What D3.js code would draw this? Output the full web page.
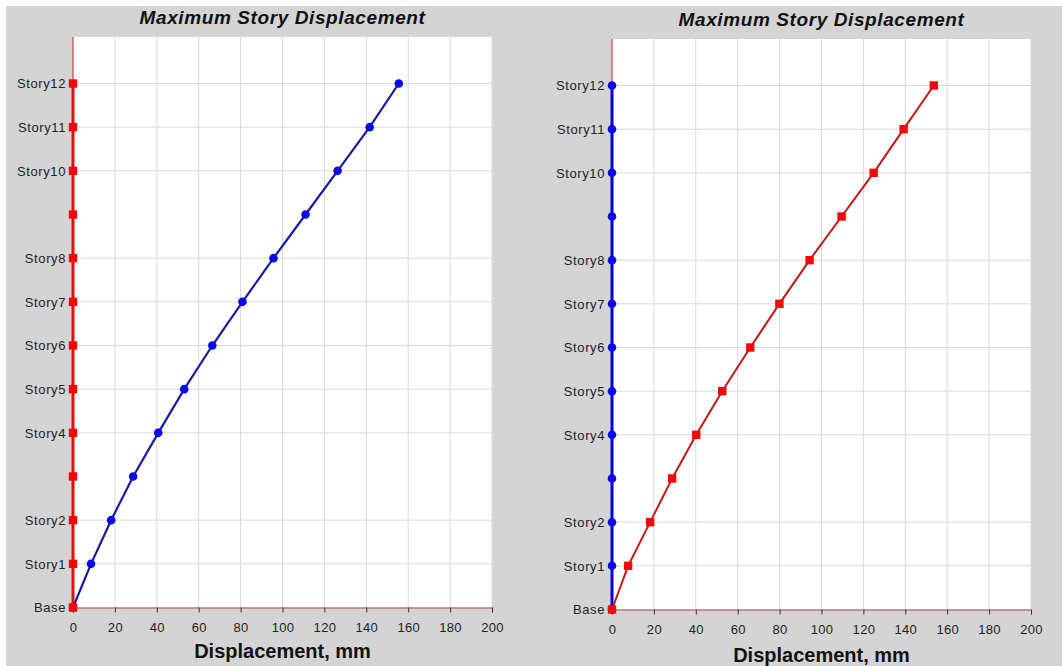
<!DOCTYPE html>
<html>
<head>
<meta charset="utf-8">
<script src="https://cdn.jsdelivr.net/npm/d3@7"></script>
<style>
  body { margin: 0; background: #fff; }
  svg { display: block; font-family: "Liberation Sans", Arial, sans-serif; }
</style>
</head>
<body>
<svg id="chart" width="1062" height="666"></svg>
<script>
// stories, bottom to top
var stories = ["Base", "Story1", "Story2", "Story3", "Story4", "Story5", "Story6",
               "Story7", "Story8", "Story9", "Story10", "Story11", "Story12"];
// labelled stories (Story3 and Story9 have no label)
var tickStories = ["Base", "Story1", "Story2", "Story4", "Story5", "Story6",
                   "Story7", "Story8", "Story10", "Story11", "Story12"];
var xTicks = [0, 20, 40, 60, 80, 100, 120, 140, 160, 180, 200];

// left chart: blue = loaded direction, red = other direction
var leftBlue = [0, 8.6, 18.2, 28.7, 40.7, 53.1, 66.5, 80.9, 95.7, 111.0, 126.3, 141.6, 155.5];
var leftRed  = [0, 0, 0, 0, 0, 0, 0, 0, 0, 0, 0, 0, 0];
// right chart
var rightBlue = [0, 0, 0, 0, 0, 0, 0, 0, 0, 0, 0, 0, 0];
var rightRed  = [0, 7.7, 18.2, 28.7, 40.2, 52.6, 66.0, 79.9, 94.3, 109.6, 124.9, 139.2, 153.6];

var svg = d3.select("#chart");

// grey backdrop with the thin white border at top / left
svg.append("rect").attr("x", 6).attr("y", 6).attr("width", 1056).attr("height", 660)
    .attr("fill", "#d4d4d4");

drawPanel({ x0: 73, x1: 492, top: 37, base: 607.5, s12: 83.5, titleY: 24, axisY: 658,
            blue: leftBlue, red: leftRed, redOnAxis: true });
drawPanel({ x0: 612, x1: 1031, top: 39, base: 609.5, s12: 85.5, titleY: 26, axisY: 662,
            blue: rightBlue, red: rightRed, redOnAxis: false });

function drawPanel(p) {
    var g = svg.append("g");

    var x = d3.scaleLinear().domain([0, 200]).range([p.x0, p.x1]);
    var y = d3.scalePoint().domain(stories).range([p.base, p.s12]);

    // plot area
    g.append("rect")
        .attr("x", p.x0).attr("y", p.top)
        .attr("width", p.x1 - p.x0).attr("height", p.base - p.top)
        .attr("fill", "#fff");

    // grid
    g.selectAll(".vgrid").data(xTicks.slice(1))
        .enter().append("line")
        .attr("class", "vgrid")
        .attr("x1", function(d){ return x(d) }).attr("x2", function(d){ return x(d) })
        .attr("y1", p.top).attr("y2", p.base)
        .attr("stroke", "#d9d9d9").attr("stroke-width", 1);

    g.selectAll(".hgrid").data(tickStories.slice(1))
        .enter().append("line")
        .attr("class", "hgrid")
        .attr("x1", p.x0).attr("x2", p.x1)
        .attr("y1", function(d){ return y(d) }).attr("y2", function(d){ return y(d) })
        .attr("stroke", "#d9d9d9").attr("stroke-width", 1);

    // x axis
    var xAxis = g.append("g")
        .attr("transform", "translate(0," + p.base + ")")
        .call(d3.axisBottom(x).tickValues(xTicks).tickSize(5).tickPadding(10));
    xAxis.select(".domain").attr("stroke", "#b84a4a");
    xAxis.selectAll(".tick line").attr("stroke", "#333");
    xAxis.selectAll("text").attr("font-size", 13).attr("fill", "#222")
        .attr("letter-spacing", 0.3)
        .attr("font-family", "Liberation Sans, Arial, sans-serif");

    // y axis
    var yAxis = g.append("g")
        .attr("transform", "translate(" + p.x0 + ",0)")
        .call(d3.axisLeft(y).tickValues(tickStories).tickSize(4).tickPadding(3));
    yAxis.select(".domain").remove();
    yAxis.selectAll(".tick line").attr("stroke", "#333");
    yAxis.selectAll("text").attr("font-size", 13).attr("fill", "#222")
        .attr("letter-spacing", 0.6)
        .attr("font-family", "Liberation Sans, Arial, sans-serif");

    // thin red axis line above the top story
    g.append("line")
        .attr("x1", x(0)).attr("x2", x(0))
        .attr("y1", p.top).attr("y2", p.base)
        .attr("stroke", "#c02020").attr("stroke-width", 1);

    var line = d3.line()
        .x(function(d){ return x(d.v) })
        .y(function(d){ return y(d.s) });

    var blueData = stories.map(function(s, i){ return { s: s, v: p.blue[i] } });
    var redData  = stories.map(function(s, i){ return { s: s, v: p.red[i] } });

    // blue series
    g.append("path").datum(blueData)
        .attr("d", line)
        .attr("fill", "none")
        .attr("stroke", p.redOnAxis ? "#1a1aa0" : "#0000e0")
        .attr("stroke-width", p.redOnAxis ? 2.2 : 3);

    g.selectAll(".bdot").data(blueData)
        .enter().append("circle")
        .attr("class", "bdot")
        .attr("cx", function(d){ return x(d.v) })
        .attr("cy", function(d){ return y(d.s) })
        .attr("r", 4.3)
        .attr("fill", "#0a0ae6");

    // red series
    g.append("path").datum(redData)
        .attr("d", line)
        .attr("fill", "none")
        .attr("stroke", p.redOnAxis ? "#e01010" : "#c01818")
        .attr("stroke-width", p.redOnAxis ? 3 : 2);

    g.selectAll(".rdot").data(redData)
        .enter().append("rect")
        .attr("class", "rdot")
        .attr("x", function(d){ return x(d.v) - 4.2 })
        .attr("y", function(d){ return y(d.s) - 4.2 })
        .attr("width", 8.4).attr("height", 8.4)
        .attr("fill", "#ee0a0a");

    // titles
    var cx = (p.x0 + p.x1) / 2;
    g.append("text")
        .attr("x", cx).attr("y", p.titleY)
        .attr("text-anchor", "middle")
        .attr("font-size", 19).attr("font-weight", "bold").attr("font-style", "italic")
        .attr("letter-spacing", 0.6)
        .attr("fill", "#111")
        .text("Maximum Story Displacement");

    g.append("text")
        .attr("x", cx).attr("y", p.axisY)
        .attr("text-anchor", "middle")
        .attr("font-size", 20).attr("font-weight", "bold")
        .attr("fill", "#111")
        .text("Displacement, mm");
}
</script>
</body>
</html>
